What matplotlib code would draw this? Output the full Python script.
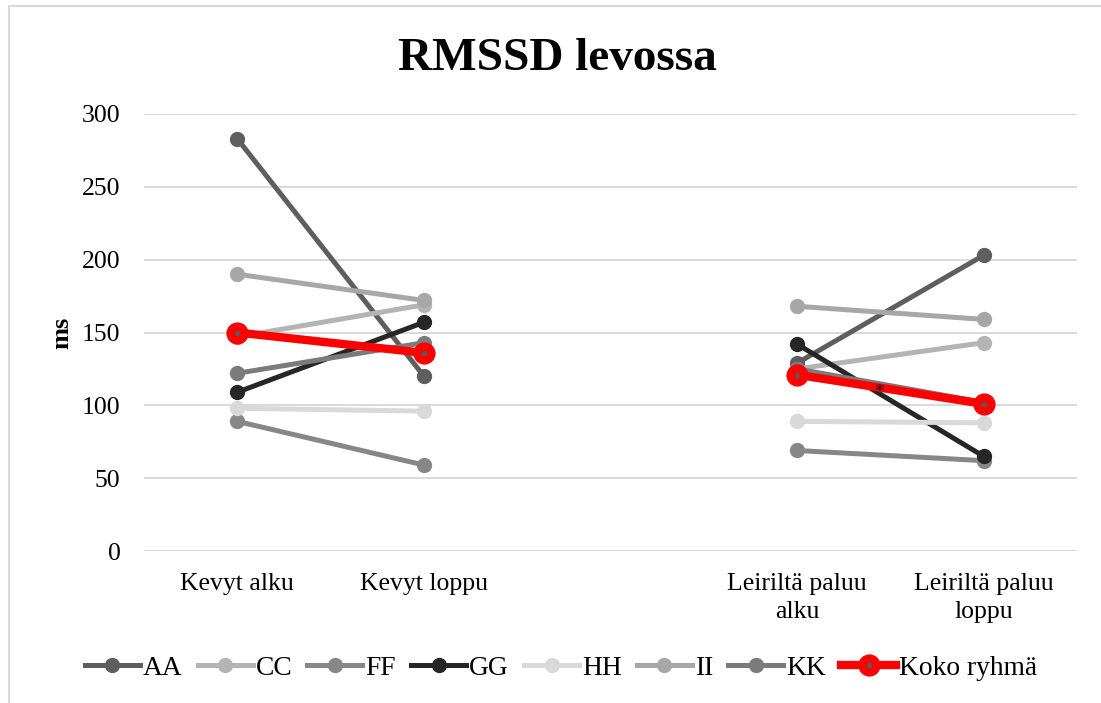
import numpy as np
import matplotlib
matplotlib.use('Agg')
import matplotlib.pyplot as plt
from matplotlib.patches import Rectangle

plt.rcParams['font.family'] = ['Liberation Serif', 'DejaVu Serif']

categories = ["Kevyt alku", "Kevyt loppu", "", "Leiriltä paluu\nalku", "Leiriltä paluu\nloppu"]
nan = np.nan
AA = [283, 120, nan, 129, 203]
CC = [147, 169, nan, 125, 143]
FF = [89, 59, nan, 69, 62]
GG = [109, 157, nan, 142, 65]
HH = [98, 96, nan, 89, 88]
II = [190, 172, nan, 168, 159]
KK = [122, 143, nan, 125, 102]
koko = [150, 136, nan, 121, 101]

series = [("AA", AA, '#5e5e5e'), ("CC", CC, '#b4b4b4'), ("FF", FF, '#878787'),
          ("GG", GG, '#262626'), ("HH", HH, '#d9d9d9'), ("II", II, '#a7a7a7'),
          ("KK", KK, '#7b7b7b')]

fig = plt.figure(figsize=(11.01, 7.03), dpi=100)
ax = fig.add_axes([144/1101, 1-551/703, (1077-144)/1101, (551-114)/703])

x = np.arange(len(categories))
for name, vals, col in series:
    ax.plot(x, vals, color=col, lw=3.6, marker='o', ms=11, mew=0, label=name)
ax.plot(x, koko, color='#ff0000', lw=6, marker='o', ms=10, mfc='#595959',
        mec='#ff0000', mew=6, label='Koko ryhmä')
ax.text(3.44, 108.5, '*', ha='center', va='center', fontsize=14, color='black')

ax.set_xlim(-0.5, 4.5)
ax.set_ylim(0, 300)
ax.set_yticks(range(0, 301, 50))
ax.set_xticks(x)
ax.set_xticklabels(categories, linespacing=1.35)
ax.tick_params(length=0, labelsize=18.5)
ax.tick_params(axis='x', pad=16)
ax.tick_params(axis='y', pad=17)
ax.yaxis.grid(True, color='#d9d9d9', lw=1.4)
ax.set_axisbelow(True)
for s in ax.spines.values():
    s.set_visible(False)

fig.text(62/1101, 1-333/703, 'ms', rotation=90, ha='center', va='center',
         fontsize=19, fontweight='bold')

fig.text(557/1101, 1-70/703, 'RMSSD levossa', ha='center', va='baseline',
         fontsize=34, fontweight='bold')

fig.legend(loc='center', bbox_to_anchor=(561/1101, 1-668/703), ncol=8,
           frameon=False, fontsize=19.8, handlelength=2.0, handletextpad=0.11,
           columnspacing=0.55, borderpad=0)

fig.patches.append(Rectangle((9/1101, -0.1), 1.2, 1-6/703+0.1, transform=fig.transFigure,
                             fill=False, ec='#d9d9d9', lw=1.5))

fig.savefig('out.png', dpi=100)
